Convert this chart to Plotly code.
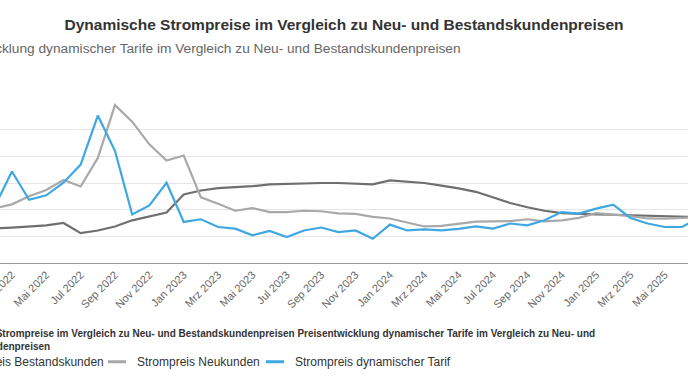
import plotly.graph_objects as go

# Monthly categories (German month abbreviations)
categories = [
    "Jan 2022", "Feb 2022", "Mrz 2022", "Apr 2022", "Mai 2022", "Jun 2022",
    "Jul 2022", "Aug 2022", "Sep 2022", "Okt 2022", "Nov 2022", "Dez 2022",
    "Jan 2023", "Feb 2023", "Mrz 2023", "Apr 2023", "Mai 2023", "Jun 2023",
    "Jul 2023", "Aug 2023", "Sep 2023", "Okt 2023", "Nov 2023", "Dez 2023",
    "Jan 2024", "Feb 2024", "Mrz 2024", "Apr 2024", "Mai 2024", "Jun 2024",
    "Jul 2024", "Aug 2024", "Sep 2024", "Okt 2024", "Nov 2024", "Dez 2024",
    "Jan 2025", "Feb 2025", "Mrz 2025", "Apr 2025", "Mai 2025", "Jun 2025",
    "Jul 2025",
]

# Tick labels shown on the axis (every second month)
tick_labels = [
    "Mrz 2022", "Mai 2022", "Jul 2022", "Sep 2022", "Nov 2022",
    "Jan 2023", "Mrz 2023", "Mai 2023", "Jul 2023", "Sep 2023", "Nov 2023",
    "Jan 2024", "Mrz 2024", "Mai 2024", "Jul 2024", "Sep 2024", "Nov 2024",
    "Jan 2025", "Mrz 2025", "Mai 2025", "Jul 2025",
]

bestandskunden = [
    13.0, 13.0, 13.3, 13.7, 14.1, 15.0, 11.2, 12.2, 13.7, 16.0, 17.5, 18.9,
    25.7, 27.2, 28.1, 28.5, 28.8, 29.5, 29.7, 30.0, 30.0, 30.0, 29.7, 29.5,
    31.0, 30.6, 30.0, 29.0, 28.0, 26.7, 24.6, 22.5, 20.9, 19.6, 18.7, 18.4,
    18.2, 18.1, 17.9, 17.7, 17.6, 17.4, 17.2,
]

neukunden = [
    20.0, 20.5, 22.0, 25.0, 27.4, 31.1, 28.7, 39.4, 59.2, 53.0, 44.5, 38.4,
    40.3, 24.6, 22.2, 19.6, 20.6, 19.1, 19.1, 19.6, 19.4, 18.6, 18.4, 17.3,
    16.7, 15.2, 13.7, 13.9, 14.7, 15.5, 15.6, 15.7, 16.4, 15.6, 16.0, 16.9,
    18.7, 18.1, 17.6, 16.7, 16.6, 16.9, 17.3,
]

dynamisch = [
    22.0, 21.2, 34.3, 23.7, 25.4, 30.1, 36.9, 55.3, 42.0, 18.2, 21.6, 30.1,
    15.4, 16.4, 13.5, 12.9, 10.4, 12.0, 9.7, 12.2, 13.3, 11.6, 12.2, 9.1,
    14.4, 12.2, 12.6, 12.2, 12.8, 13.7, 12.9, 14.8, 14.1, 16.0, 19.1, 18.5,
    20.4, 21.9, 16.9, 14.8, 13.5, 13.5, 17.1,
]

series_names = ["Strompreis Bestandskunden", "Strompreis Neukunden", "Strompreis dynamischer Tarif"]
series_colors = ["#6f6f6f", "#a9a9a9", "#3fa8e2"]
legend_ids = ["legend", "legend2", "legend3"]

title_text = "Dynamische Strompreise im Vergleich zu Neu- und Bestandskundenpreisen"
subtitle_text = "Preisentwicklung dynamischer Tarife im Vergleich zu Neu- und Bestandskundenpreisen"
caption_text = ("<b>Dynamische Strompreise im Vergleich zu Neu- und Bestandskundenpreisen "
                "Preisentwicklung dynamischer Tarife im Vergleich zu Neu- und<br>"
                "Bestandskundenpreisen</b>")

FONT = "Liberation Sans, Arial, Helvetica, sans-serif"

fig = go.Figure()
for name, values, color, lg in zip(series_names, [bestandskunden, neukunden, dynamisch],
                                   series_colors, legend_ids):
    # data line
    fig.add_trace(go.Scatter(
        x=categories, y=values, name=name, mode="lines", legendgroup=name,
        showlegend=False, line=dict(color=color, width=2.2),
    ))
    # legend entry with a short dash symbol
    fig.add_trace(go.Scatter(
        x=[None], y=[None], name=name, mode="markers", legend=lg, legendgroup=name,
        marker=dict(symbol="line-ew", size=13, color=color,
                    line=dict(width=3, color=color)),
    ))

W, H = 688, 387
top, bottom = 102.5, 262.7
ph = bottom - top

def py_to_paper(py):
    return (bottom - py) / ph

legend_y = py_to_paper(347)
legend_x_px = [-87, 97, 255]

def legend_cfg(xpx):
    return dict(
        orientation="h", x=xpx / W, xanchor="left",
        y=legend_y, yanchor="top",
        font=dict(size=12, color="#333333", family=FONT),
        itemwidth=30, bgcolor="rgba(0,0,0,0)",
    )

fig.update_layout(
    width=W, height=H,
    margin=dict(l=0, r=0, t=top, b=H - bottom, pad=0, autoexpand=False),
    paper_bgcolor="white", plot_bgcolor="white",
    font=dict(family=FONT, color="#333333"),
    title=dict(text=f"<b>{title_text}</b>", x=0.5, xanchor="center",
               y=1 - 25 / H, yanchor="middle", yref="container",
               font=dict(size=15.5, color="#333333", family=FONT)),
    xaxis=dict(
        type="category", range=[1.306, 41.35],
        tickmode="array", tickvals=tick_labels, ticktext=tick_labels,
        tickangle=-45, tickfont=dict(size=11, color="#666666"),
        showgrid=False, showline=True, linecolor="#999999", linewidth=1,
        ticks="", automargin=False, fixedrange=True,
    ),
    yaxis=dict(
        range=[0, 60], dtick=10, showticklabels=False,
        showgrid=True, gridcolor="#e6e6e6", gridwidth=1,
        zeroline=False, automargin=False, fixedrange=True,
    ),
    showlegend=True,
    legend=legend_cfg(legend_x_px[0]),
    legend2=legend_cfg(legend_x_px[1]),
    legend3=legend_cfg(legend_x_px[2]),
    annotations=[
        dict(text=subtitle_text, xref="paper", yref="paper",
             x=463 / W, xanchor="right", y=py_to_paper(48), yanchor="middle",
             showarrow=False, font=dict(size=13.7, color="#666666", family=FONT)),
        dict(text=caption_text, xref="paper", yref="paper", align="left",
             x=-68 / W, xanchor="left", y=py_to_paper(340), yanchor="middle",
             showarrow=False, font=dict(size=10, color="#333333", family=FONT)),
    ],
)

fig.write_html("out.html", config={"displayModeBar": False},
               post_script="document.body.style.margin='0';")
